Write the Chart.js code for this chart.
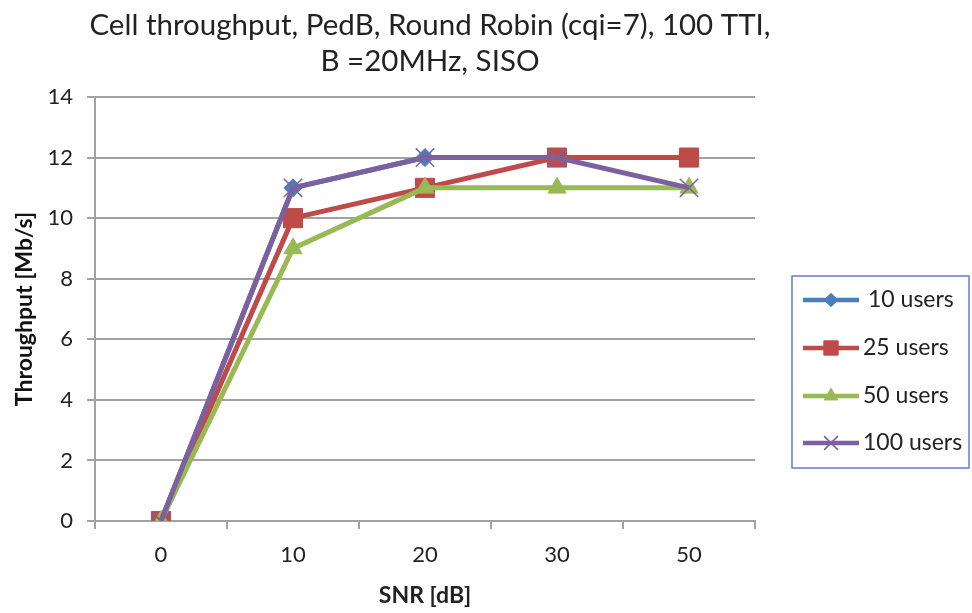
<!DOCTYPE html>
<html>
<head>
<meta charset="utf-8">
<script src="https://cdn.jsdelivr.net/npm/chart.js@4.4.1/dist/chart.umd.min.js"></script>
<style>
  html, body { margin: 0; padding: 0; background: #fff; }
  #wrap { width: 972px; height: 613px; }
</style>
</head>
<body>
<div id="wrap"><canvas id="chart" width="972" height="613"></canvas></div>
<script>
// ===== Data =====
const snrLabels = ['0', '10', '20', '30', '50'];
const users10 = [0, 11, 12, 12, 12];
const users25 = [0, 10, 11, 12, 12];
const users50 = [0, 9, 11, 11, 11];
const users100 = [0, 11, 12, 12, 11];
const yTicks = [0, 2, 4, 6, 8, 10, 12, 14];
const titleLines = ['Cell throughput, PedB, Round Robin (cqi=7), 100 TTI,', 'B =20MHz, SISO'];

const FONT = 'Lato, "Open Sans", sans-serif';
const GRID = '#a2a2a2';

const series = [
  { label: '10 users',  data: users10,  color: '#4a7ebb', style: 'rectRot',  radius: 9,  bw: 1,   order: 4 },
  { label: '25 users',  data: users25,  color: '#be4b48', style: 'rect',     radius: 13.5, bw: 1, order: 3 },
  { label: '50 users',  data: users50,  color: '#98b954', style: 'triangle', radius: 10.5, bw: 1, order: 2 },
  { label: '100 users', data: users100, color: '#7d60a0', style: 'crossRot', radius: 13, bw: 1.5, order: 1 }
];

// title drawn by hand: centred over the plot, not the whole canvas
const topTitle = {
  id: 'topTitle',
  afterDraw(chart) {
    const ctx = chart.ctx;
    ctx.save();
    ctx.fillStyle = '#222';
    ctx.font = '29.5px ' + FONT;
    ctx.textAlign = 'center';
    ctx.textBaseline = 'middle';
    ctx.fillText(titleLines[0], 430, 25);
    ctx.fillText(titleLines[1], 430, 61);
    ctx.restore();
  }
};

// legend drawn by hand so it gets the boxed Excel look
const boxLegend = {
  id: 'boxLegend',
  afterDraw(chart) {
    const ctx = chart.ctx;
    const x0 = 792, y0 = 276, w = 177, h = 192;
    ctx.save();
    ctx.strokeStyle = '#5b7fd6';
    ctx.lineWidth = 1.5;
    ctx.strokeRect(x0, y0, w, h);
    const rows = [300, 348, 396, 443];
    series.forEach((s, i) => {
      const y = rows[i];
      ctx.strokeStyle = s.color;
      ctx.lineWidth = 4.5;
      ctx.beginPath();
      ctx.moveTo(803, y);
      ctx.lineTo(859, y);
      ctx.stroke();
      ctx.fillStyle = s.color;
      ctx.strokeStyle = s.color;
      ctx.lineWidth = s.bw;
      Chart.helpers.drawPoint(ctx, { pointStyle: s.style, radius: s.radius * 0.75, borderWidth: s.bw, rotation: 0 }, 831, y);
      ctx.fillStyle = '#222';
      ctx.font = '23px ' + FONT;
      ctx.textBaseline = 'middle';
      ctx.textAlign = 'left';
      ctx.fillText(s.label, i === 0 ? 868 : 863, y);
    });
    ctx.restore();
  }
};

new Chart(document.getElementById('chart'), {
  type: 'line',
  data: {
    labels: snrLabels,
    datasets: series.map(s => ({
      label: s.label,
      data: s.data,
      borderColor: s.color,
      backgroundColor: s.color,
      borderWidth: 5,
      pointStyle: s.style,
      pointRadius: s.radius,
      pointHoverRadius: s.radius,
      pointBorderWidth: s.bw,
      pointBorderColor: s.color,
      pointBackgroundColor: s.color,
      tension: 0,
      order: s.order
    }))
  },
  options: {
    responsive: false,
    animation: false,
    layout: { padding: { left: 0, right: 217, top: 97, bottom: 0 } },
    plugins: {
      legend: { display: false },
      tooltip: { enabled: false },
      title: { display: false }
    },
    scales: {
      x: {
        offset: true,
        grid: { display: true, drawOnChartArea: false, offset: true, color: GRID, lineWidth: 2, tickLength: 8 },
        border: { display: true, color: GRID, width: 2 },
        ticks: { color: '#222', font: { family: FONT, size: 22 }, padding: 13 },
        title: { display: true, text: 'SNR [dB]', color: '#222', font: { family: FONT, size: 23, weight: 'bold', lineHeight: 1.2 }, padding: { top: 0, bottom: 4 } },
        afterFit: s => { s.height = 92; }
      },
      y: {
        min: 0, max: 14,
        afterBuildTicks: s => { s.ticks = yTicks.map(v => ({ value: v })); },
        grid: { color: GRID, lineWidth: 2, tickLength: 8 },
        border: { display: true, color: GRID, width: 2 },
        ticks: { color: '#222', font: { family: FONT, size: 22 }, padding: 14 },
        title: { display: true, text: 'Throughput [Mb/s]', color: '#111', font: { family: FONT, size: 23, weight: 'bold', lineHeight: 1.2 }, padding: { top: 11, bottom: 0 } },
        afterFit: s => { s.width = 95; }
      }
    }
  },
  plugins: [topTitle, boxLegend]
});
</script>
</body>
</html>
